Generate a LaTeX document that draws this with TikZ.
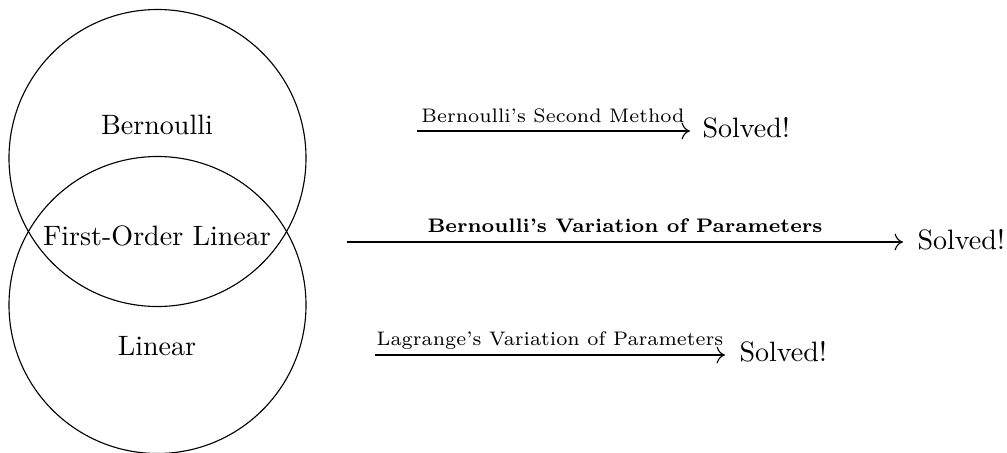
\documentclass[tikz,border=0pt]{standalone}
\usetikzlibrary{arrows.meta}
\begin{document}
\begin{tikzpicture}[x=0.01255cm,y=-0.01255cm,
  venn/.style={draw,line width=0.4pt},
  setlabel/.style={inner sep=0pt,anchor=center},
  result/.style={inner sep=0pt,anchor=base west},
  method/.style={-{To[length=3pt,width=6pt]},line width=0.4pt},
  methodlabel/.style={font=\scriptsize,inner sep=0pt,anchor=base}]
\useasboundingbox (0,0) rectangle (1007,453);
% Venn circles
\coordinate (ctop) at (157.5,158);
\coordinate (cbot) at (157.5,305);
\draw[venn] (ctop) circle[radius=148.5];
\draw[venn] (cbot) circle[radius=148.5];
\node[setlabel] (bern) at (157,125) {Bernoulli};
\node[setlabel] (fol) at (157,236) {First-Order Linear};
\node[setlabel] (lin) at (157,346) {Linear};
% Arrow 1
\coordinate (s1) at (417,131);
\node[result] (r1) at (702,137) {Solved!};
\draw[method] (s1) -- ([xshift=-12*0.01255cm]s1 -| r1.west);
\node[methodlabel] (l1) at (553,122) {Bernoulli's Second Method};
% Arrow 2
\coordinate (s2) at (347,242);
\node[result] (r2) at (917,249) {Solved!};
\draw[method] (s2) -- ([xshift=-14*0.01255cm]s2 -| r2.west);
\node[methodlabel,font=\scriptsize\bfseries] (l2) at (625,232) {Bernoulli's Variation of Parameters};
% Arrow 3
\coordinate (s3) at (375,355);
\node[result] (r3) at (739,361) {Solved!};
\draw[method] (s3) -- ([xshift=-14*0.01255cm]s3 -| r3.west);
\node[methodlabel] (l3) at (550,345) {Lagrange's Variation of Parameters};
\end{tikzpicture}
\end{document}
